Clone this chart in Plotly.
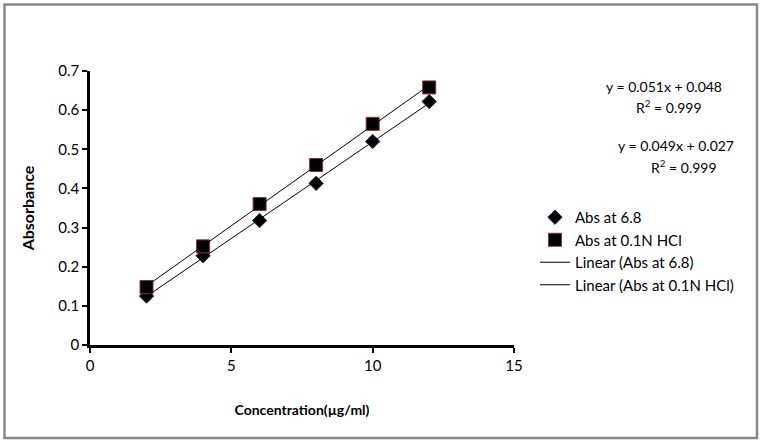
import numpy as np
import plotly.graph_objects as go

conc = [2, 4, 6, 8, 10, 12]
abs_68 = [0.125, 0.228, 0.318, 0.413, 0.520, 0.622]
abs_hcl = [0.148, 0.252, 0.360, 0.460, 0.565, 0.658]
eq_hcl = ["y = 0.051x + 0.048", "R<sup>2</sup> = 0.999"]
eq_68 = ["y = 0.049x + 0.027", "R<sup>2</sup> = 0.999"]
x_ticks = [0, 5, 10, 15]
y_ticks = [0, 0.1, 0.2, 0.3, 0.4, 0.5, 0.6, 0.7]

FONT = "Lato, Roboto, sans-serif"

x_arr = np.array(conc, dtype=float)
fit68 = np.polyfit(x_arr, abs_68, 1)
fith = np.polyfit(x_arr, abs_hcl, 1)
xl = np.array([x_arr.min(), x_arr.max()])

fig = go.Figure()
fig.add_trace(go.Scatter(x=conc, y=abs_68, mode="markers", name="Abs at 6.8",
                         marker=dict(symbol="diamond", size=11, color="black",
                                     line=dict(color="#1a2a44", width=1))))
fig.add_trace(go.Scatter(x=conc, y=abs_hcl, mode="markers", name="Abs at 0.1N HCl",
                         marker=dict(symbol="square", size=13, color="black",
                                     line=dict(color="#8a3030", width=1))))
fig.add_trace(go.Scatter(x=xl, y=np.polyval(fit68, xl), mode="lines",
                         name="Linear (Abs at 6.8)", line=dict(color="black", width=1)))
fig.add_trace(go.Scatter(x=xl, y=np.polyval(fith, xl), mode="lines",
                         name="Linear (Abs at 0.1N HCl)", line=dict(color="black", width=1)))

L, R, T, B = 90, 254, 71, 95
pw, ph = 768 - L - R, 440 - T - B

def px(x):
    return (x - L) / pw

def py(y):
    return (440 - B - y) / ph

def note(text, x, y):
    return dict(xref="paper", yref="paper", x=px(x), y=py(y), text=text,
                xanchor="center", yanchor="middle", showarrow=False,
                font=dict(family=FONT, size=14, color="black"))

fig.update_layout(
    width=768, height=440,
    margin=dict(l=L, r=R, t=T, b=B),
    paper_bgcolor="white", plot_bgcolor="white",
    font=dict(family=FONT, size=15, color="black"),
    showlegend=True,
    legend=dict(x=px(535), y=py(201), xanchor="left", yanchor="top",
                font=dict(family=FONT, size=15, color="black"),
                bgcolor="rgba(0,0,0,0)", tracegroupgap=0, itemwidth=30),
    xaxis=dict(range=[0, 15], tickvals=x_ticks, showgrid=False, zeroline=False,
               showline=True, linecolor="black", linewidth=2.5,
               ticks="outside", ticklen=5, tickwidth=2, tickcolor="black",
               tickfont=dict(family=FONT, size=15),
               title=dict(text="<b>Concentration(µg/ml)</b>", standoff=33,
                          font=dict(family=FONT, size=14))),
    yaxis=dict(range=[0, 0.7], tickvals=y_ticks, tickformat="~g", showgrid=False,
               zeroline=False, showline=True, linecolor="black", linewidth=2.5,
               ticks="outside", ticklen=5, tickwidth=2, tickcolor="black",
               tickfont=dict(family=FONT, size=15),
               title=dict(text="<b>Absorbance</b>", standoff=20,
                          font=dict(family=FONT, size=16))),
    shapes=[dict(type="rect", xref="paper", yref="paper",
                 x0=px(4.5), x1=px(757), y0=py(438), y1=py(4.5),
                 line=dict(color="#888888", width=2.5), fillcolor="rgba(0,0,0,0)",
                 layer="below")],
    annotations=[
        note(eq_hcl[0], 664, 86),
        note(eq_hcl[1], 669, 106),
        note(eq_68[0], 676, 145),
        note(eq_68[1], 684, 166),
    ],
)

fig.write_html("out.html")
